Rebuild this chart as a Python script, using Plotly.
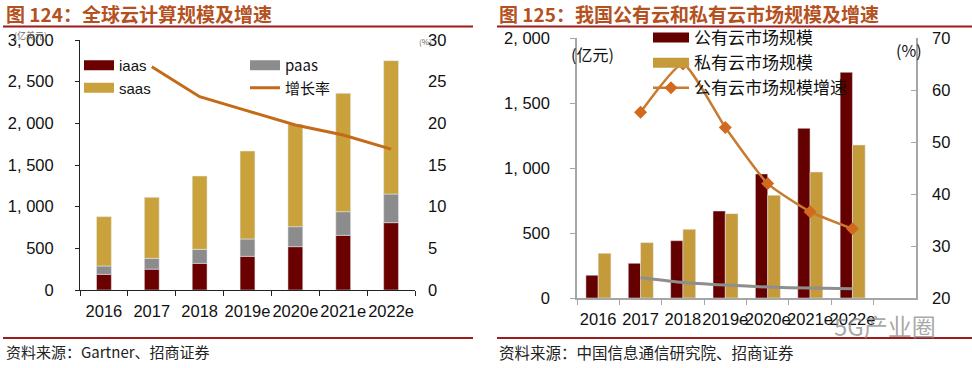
import plotly.graph_objects as go

W, H = 972, 368

# ---------- data: left chart ----------
years_l = ["2016", "2017", "2018", "2019e", "2020e", "2021e", "2022e"]
iaas = [188, 250, 320, 404, 520, 656, 808]
paas = [100, 130, 168, 208, 240, 284, 344]
saas = [592, 732, 880, 1056, 1228, 1420, 1600]
growth_l = [None, 26.8, 23.2, 21.5, 19.8, 18.6, 16.9]
ytick_l = [0, 500, 1000, 1500, 2000, 2500, 3000]
ytext_l = ["0", "500", "1, 000", "1, 500", "2, 000", "2, 500", "3, 000"]

# ---------- data: right chart ----------
years_r = ["2016", "2017", "2018", "2019e", "2020e", "2021e", "2022e"]
public = [175, 267, 441, 669, 954, 1305, 1736]
private = [344, 426, 528, 649, 790, 969, 1177]
growth_pub = [None, 55.7, 65.0, 52.8, 42.0, 36.6, 33.3]
growth_priv = [None, 23.9, 23.0, 22.5, 22.1, 21.9, 21.8]
ytick_r = [0, 500, 1000, 1500, 2000]
ytext_r = ["0", "500", "1, 000", "1, 500", "2, 000"]

C_IAAS = "#6B0000"
C_PAAS = "#8C8C8C"
C_SAAS = "#C9A23C"
C_LINE_L = "#C46A18"
C_PUB = "#640000"
C_PRIV = "#C49A3A"
C_LINE_R = "#C87A30"
C_DIAM = "#D2691E"
C_GRAY = "#8E8E8E"
RED = "#9E1B1B"
TITLE_C = "#B4511E"

FONT = "Liberation Sans, Arial, Noto Sans CJK SC, sans-serif"
CJK = "Noto Sans CJK SC, Liberation Sans, sans-serif"

def px(x):
    return x / W

def py(y):
    return 1 - y / H

fig = go.Figure()

# left stacked bars (overlay with explicit bases)
base_paas = iaas
base_saas = [a + b for a, b in zip(iaas, paas)]
fig.add_trace(go.Bar(x=years_l, y=iaas, base=[0] * 7, width=0.31, marker_color=C_IAAS,
                     xaxis="x", yaxis="y", showlegend=False, name="iaas"))
fig.add_trace(go.Bar(x=years_l, y=paas, base=base_paas, width=0.31, marker_color=C_PAAS,
                     xaxis="x", yaxis="y", showlegend=False, name="paas"))
fig.add_trace(go.Bar(x=years_l, y=saas, base=base_saas, width=0.31, marker_color=C_SAAS,
                     xaxis="x", yaxis="y", showlegend=False, name="saas"))
fig.add_trace(go.Scatter(x=years_l, y=growth_l, mode="lines", line=dict(color=C_LINE_L, width=3),
                         xaxis="x", yaxis="y2", showlegend=False, name="增长率"))

# left legend entries
fig.add_trace(go.Scatter(x=[None], y=[None], mode="lines", line=dict(color=C_IAAS, width=10),
                         name="iaas", legend="legend", xaxis="x", yaxis="y"))
fig.add_trace(go.Scatter(x=[None], y=[None], mode="lines", line=dict(color=C_SAAS, width=10),
                         name="saas", legend="legend", xaxis="x", yaxis="y"))
fig.add_trace(go.Scatter(x=[None], y=[None], mode="lines", line=dict(color=C_PAAS, width=10),
                         name="paas", legend="legend2", xaxis="x", yaxis="y"))
fig.add_trace(go.Scatter(x=[None], y=[None], mode="lines", line=dict(color=C_LINE_L, width=3),
                         name="增长率", legend="legend2", xaxis="x", yaxis="y"))

# right grouped bars
fig.add_trace(go.Bar(x=years_r, y=public, width=0.29, offset=-0.29, marker_color=C_PUB,
                     xaxis="x2", yaxis="y3", showlegend=False, name="公有云市场规模"))
fig.add_trace(go.Bar(x=years_r, y=private, width=0.3, offset=0.0, marker_color=C_PRIV,
                     xaxis="x2", yaxis="y3", showlegend=False, name="私有云市场规模"))
fig.add_trace(go.Scatter(x=years_r, y=growth_priv, mode="lines",
                         line=dict(color=C_GRAY, width=3, shape="spline", smoothing=0.5),
                         xaxis="x2", yaxis="y4", showlegend=False, name="私有云市场规模增速"))
fig.add_trace(go.Scatter(x=years_r, y=growth_pub, mode="lines+markers",
                         line=dict(color=C_LINE_R, width=2.5, shape="spline", smoothing=0.5),
                         marker=dict(symbol="diamond", size=10, color=C_DIAM),
                         xaxis="x2", yaxis="y4", showlegend=False, name="公有云市场规模增速"))

# right legend entries
fig.add_trace(go.Scatter(x=[None], y=[None], mode="lines", line=dict(color=C_PUB, width=10),
                         name="公有云市场规模", legend="legend3", xaxis="x2", yaxis="y3"))
fig.add_trace(go.Scatter(x=[None], y=[None], mode="lines", line=dict(color=C_PRIV, width=10),
                         name="私有云市场规模", legend="legend3", xaxis="x2", yaxis="y3"))
fig.add_trace(go.Scatter(x=[None], y=[None], mode="lines+markers", line=dict(color=C_LINE_R, width=2.5),
                         marker=dict(symbol="diamond", size=10, color=C_DIAM),
                         name="公有云市场规模增速", legend="legend3", xaxis="x2", yaxis="y3"))

axis_font = dict(family=FONT, size=16.5, color="#111111")

leg_common = dict(bgcolor="rgba(0,0,0,0)", borderwidth=0, orientation="v",
                  xanchor="left", yanchor="top", itemclick=False)

fig.update_layout(
    width=W, height=H,
    margin=dict(l=0, r=0, t=0, b=0),
    paper_bgcolor="white", plot_bgcolor="white",
    barmode="overlay",
    font=dict(family=FONT, size=16, color="#111111"),
    xaxis=dict(domain=[px(80), px(415)], anchor="y", type="category", range=[-0.5, 6.5],
               tickson="boundaries", ticks="outside", ticklen=5, tickcolor="#222",
               showline=True, linecolor="#222", linewidth=1, showgrid=False, tickangle=0,
               automargin=False, tickfont=axis_font, ticklabelstandoff=6),
    yaxis=dict(domain=[py(290), py(40)], anchor="x", range=[0, 3000],
               tickvals=ytick_l, ticktext=ytext_l, ticks="outside", ticklen=4, tickcolor="#222",
               showline=True, linecolor="#222", linewidth=1, showgrid=False, zeroline=False,
               automargin=False, tickfont=axis_font, ticklabelstandoff=18),
    yaxis2=dict(overlaying="y", side="right", anchor="x", range=[0, 30], dtick=5,
                ticks="", showline=False, showgrid=False, zeroline=False,
                automargin=False, tickfont=axis_font, ticklabelstandoff=12),
    xaxis2=dict(domain=[px(577), px(916)], anchor="y3", type="category", range=[-0.5, 7.5],
                tickson="boundaries", ticks="outside", ticklen=5, tickcolor="#A6A6A6",
                showline=True, linecolor="#A6A6A6", linewidth=1.5, showgrid=False, tickangle=0,
                automargin=False, tickfont=axis_font, ticklabelstandoff=5),
    yaxis3=dict(domain=[py(298), py(38)], anchor="x2", range=[0, 2000],
                tickvals=ytick_r, ticktext=ytext_r, ticks="outside", ticklen=5, tickcolor="#A6A6A6",
                showline=True, linecolor="#A6A6A6", linewidth=1.5, showgrid=False, zeroline=False,
                automargin=False, tickfont=axis_font, ticklabelstandoff=17),
    yaxis4=dict(overlaying="y3", side="right", anchor="x2", range=[20, 70], dtick=10,
                ticks="inside", ticklen=5, tickcolor="#A6A6A6",
                showline=True, linecolor="#A6A6A6", linewidth=1.5, showgrid=False, zeroline=False,
                automargin=False, tickfont=axis_font, ticklabelstandoff=11),
    legend=dict(x=px(79), y=py(49), font=dict(family=FONT, size=15, color="#111"),
                itemwidth=30, **leg_common),
    legend2=dict(x=px(245), y=py(49), font=dict(family=CJK, size=15, color="#111"),
                 itemwidth=30, **leg_common),
    legend3=dict(x=px(648), y=py(20), font=dict(family=CJK, size=17, color="#111"),
                 itemwidth=36, **leg_common),
)

anns = [
    dict(x=px(4), y=py(13.5), text="<b>图 124：全球云计算规模及增速</b>", xanchor="left", yanchor="middle",
         font=dict(family=CJK, size=19, color=TITLE_C)),
    dict(x=px(497), y=py(13.5), text="<b>图 125：我国公有云和私有云市场规模及增速</b>", xanchor="left",
         yanchor="middle", font=dict(family=CJK, size=19, color=TITLE_C)),
    dict(x=px(4), y=py(351.5), text="资料来源：Gartner、招商证券", xanchor="left", yanchor="middle",
         font=dict(family=CJK, size=15, color="#222")),
    dict(x=px(497), y=py(351.5), text="资料来源：中国信息通信研究院、招商证券", xanchor="left",
         yanchor="middle", font=dict(family=CJK, size=15.5, color="#222")),
    dict(x=px(12), y=py(35), text="(亿美元)", xanchor="left", yanchor="middle",
         font=dict(family=CJK, size=9, color="#666")),
    dict(x=px(417), y=py(42), text="(%)", xanchor="left", yanchor="middle",
         font=dict(family=CJK, size=8, color="#666")),
    dict(x=px(569), y=py(54), text="(亿元)", xanchor="left", yanchor="middle",
         font=dict(family=CJK, size=16, color="#111")),
    dict(x=px(894), y=py(50), text="(%)", xanchor="left", yanchor="middle",
         font=dict(family=CJK, size=16, color="#111")),
    dict(x=px(885), y=py(325), text="5G产业圈", xanchor="center", yanchor="middle",
         font=dict(family=CJK, size=24, color="rgba(140,140,140,0.75)")),
]
for a in anns:
    a.update(xref="paper", yref="paper", showarrow=False)
fig.update_layout(annotations=anns)

shapes = []
for (x0, x1) in [(3, 473), (497, 972)]:
    for yy in (26.5, 338):
        shapes.append(dict(type="line", xref="paper", yref="paper", x0=px(x0), x1=px(x1),
                           y0=py(yy), y1=py(yy), line=dict(color=RED, width=2)))
fig.update_layout(shapes=shapes)

fig.write_html("out.html", config={"displayModeBar": False})

# remove the browser's default page margin so the figure sits at (0, 0)
with open("out.html", "r", encoding="utf-8") as f:
    html = f.read()
html = html.replace("<head>", "<head><style>html,body{margin:0;padding:0;overflow:hidden;}</style>", 1)
with open("out.html", "w", encoding="utf-8") as f:
    f.write(html)
